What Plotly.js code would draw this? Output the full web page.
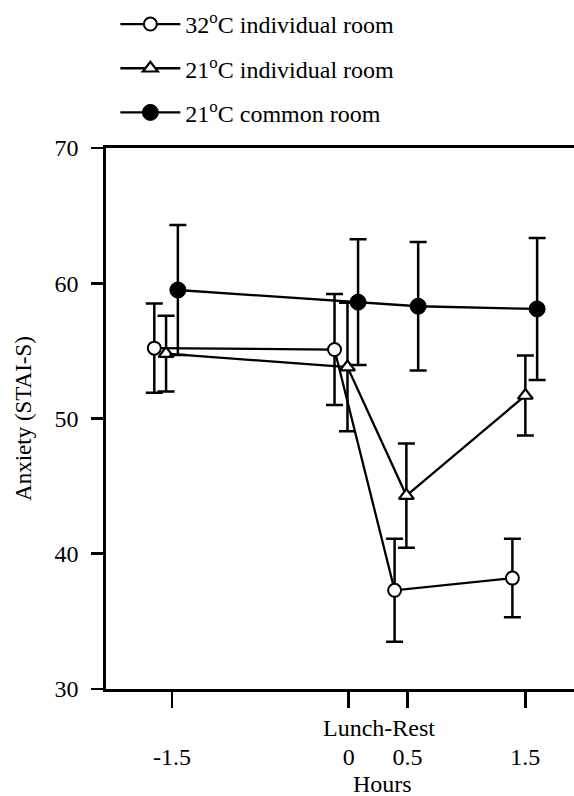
<!DOCTYPE html>
<html>
<head>
<meta charset="utf-8">
<script src="https://cdn.plot.ly/plotly-3.0.1.min.js"></script>
<style>html,body{margin:0;padding:0;background:#fff;}</style>
</head>
<body>
<div id="chart" style="width:574px;height:796px;"></div>
<script>
// Hours (slightly offset per series, as in the original figure)
var hotIndivX = [-1.65, -0.12, 0.39, 1.39];
var hotIndivY = [55.2, 55.1, 37.3, 38.2];
var hotIndivErr = [3.3, 4.1, 3.8, 2.9];

var coolIndivX = [-1.55, -0.01, 0.49, 1.50];
var coolIndivY = [54.8, 53.8, 44.3, 51.7];
var coolIndivErr = [2.8, 4.75, 3.85, 2.95];

var coolCommonX = [-1.45, 0.08, 0.59, 1.60];
var coolCommonY = [59.5, 58.6, 58.3, 58.1];
var coolCommonErr = [4.8, 4.65, 4.75, 5.25];

var seriesNames = ["32<sup>o</sup>C individual room", "21<sup>o</sup>C individual room", "21<sup>o</sup>C common room"];
var hourTicks = [-1.5, 0, 0.5, 1.5];
var hourTickText = ["-1.5", "0", "0.5", "1.5"];
var yTicks = [30, 40, 50, 60, 70];

var F = "Liberation Serif";

function errCfg(arr) {
  return {type: 'data', array: arr, visible: true, color: '#000', thickness: 2.5, width: 8.5};
}

var traces = [
  {x: hotIndivX, y: hotIndivY, name: seriesNames[0], legendgroup: 'a', type: 'scatter', mode: 'lines+markers',
   line: {color: '#000', width: 2.3},
   marker: {symbol: 'circle', size: 13, color: '#fff', line: {color: '#000', width: 2}},
   error_y: errCfg(hotIndivErr)},
  {x: coolIndivX, y: coolIndivY, name: seriesNames[1], legendgroup: 'b', type: 'scatter', mode: 'lines+markers',
   line: {color: '#000', width: 2.3},
   marker: {symbol: 'triangle-up', size: 13, color: '#fff', line: {color: '#000', width: 2.2}},
   error_y: errCfg(coolIndivErr)},
  {x: coolCommonX, y: coolCommonY, name: seriesNames[2], legendgroup: 'c', type: 'scatter', mode: 'lines+markers',
   line: {color: '#000', width: 2.3},
   marker: {symbol: 'circle', size: 16, color: '#000', line: {color: '#000', width: 1}},
   error_y: errCfg(coolCommonErr)}
];

var layout = {
  width: 574, height: 796,
  margin: {l: 106, r: 0, t: 148, b: 107},
  paper_bgcolor: '#fff', plot_bgcolor: '#fff',
  font: {family: F, size: 24, color: '#000'},
  showlegend: true,
  legend: {x: 0.02, y: 1.27, xanchor: 'left', yanchor: 'top', bgcolor: 'rgba(0,0,0,0)',
           font: {family: F, size: 24, color: '#000'}, traceorder: 'grouped', tracegroupgap: 10, itemwidth: 60},
  xaxis: {
    range: [-2.06, 1.913], showgrid: false, zeroline: false,
    showline: true, linecolor: '#000', linewidth: 2.8, mirror: true,
    ticks: 'outside', ticklen: 16, tickwidth: 2.8, tickcolor: '#000',
    tickmode: 'array', tickvals: hourTicks, ticktext: hourTickText,
    ticklabelstandoff: 28,
    tickfont: {family: F, size: 24, color: '#000'}
  },
  yaxis: {
    range: [30, 70], showgrid: false, zeroline: false,
    showline: true, linecolor: '#000', linewidth: 2.8,
    ticks: 'outside', ticklen: 12, tickwidth: 2.8, tickcolor: '#000',
    tickmode: 'array', tickvals: yTicks,
    ticklabelstandoff: 8,
    tickfont: {family: F, size: 24, color: '#000'},
    title: {text: 'Anxiety (STAI-S)', font: {family: F, size: 23, color: '#000'}, standoff: 17}
  },
  annotations: [
    {text: 'Lunch-Rest', xref: 'x', yref: 'paper', x: 0.26, y: -0.072, xanchor: 'center', yanchor: 'middle',
     showarrow: false, font: {family: F, size: 24, color: '#000'}},
    {text: 'Hours', xref: 'x', yref: 'paper', x: 0.29, y: -0.176, xanchor: 'center', yanchor: 'middle',
     showarrow: false, font: {family: F, size: 24, color: '#000'}}
  ]
};

Plotly.newPlot('chart', traces, layout, {staticPlot: true, displayModeBar: false});
</script>
</body>
</html>
